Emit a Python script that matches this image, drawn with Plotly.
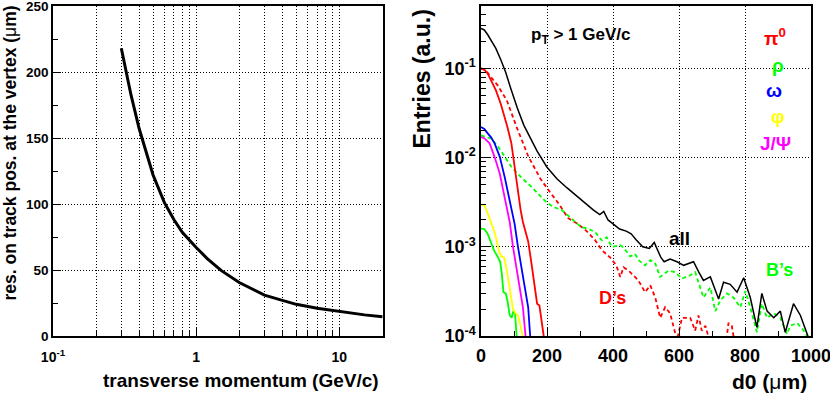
import plotly.graph_objects as go

W, H = 830, 396

# left panel: track position resolution vs pT
pt = [0.3, 0.35, 0.4, 0.45, 0.5, 0.6, 0.7, 0.8, 0.9, 1.0, 1.2, 1.5, 2.0, 3.0, 4.0, 5.0, 7.0, 10.0, 15.0, 20.0]
res = [218, 183, 157, 138, 122, 101, 88, 78.5, 72, 67, 58.5, 49.5, 40.5, 31, 27, 24, 21, 18.5, 16, 14.5]
pt_ticks = [0.1, 1, 10]
pt_labels = ["10<sup>-1</sup>", "1", "10"]
res_ticks = [0, 50, 100, 150, 200, 250]

# right panel: d0 distributions
all_x = [0, 10, 20, 30, 45, 60, 75, 90, 110, 130, 150, 170, 200, 230, 260, 290, 320, 340, 360, 372, 385,
         400, 420, 440, 455, 470, 490, 510, 525, 545, 555, 573, 594, 614, 644, 660, 674, 695, 720, 735,
         755, 776, 796, 816, 836, 851, 867, 887, 907, 922, 947, 968, 990, 1000]
all_y = [0.28, 0.27, 0.24, 0.21, 0.168, 0.125, 0.09, 0.06, 0.036, 0.023, 0.0165, 0.0118, 0.0078, 0.0058,
         0.0046, 0.0037, 0.0030, 0.0026, 0.0023, 0.0025, 0.0020, 0.0018, 0.00158, 0.0015, 0.0014, 0.0012,
         0.00100, 0.00096, 0.00112, 0.00076, 0.00068, 0.00073, 0.00068, 0.00062, 0.00068, 0.00052, 0.00042,
         0.00046, 0.00026, 0.00040, 0.00038, 0.00031, 0.00045, 0.00027, 0.000125, 0.00030, 0.00019, 0.00016,
         0.00019, 0.00011, 0.00023, 0.00017, 0.0001, 0.00008]

ds_x = [0, 15, 30, 50, 78, 108, 144, 180, 205, 234, 264, 294, 320, 345, 366, 391, 410, 422, 432, 452, 477,
        497, 513, 528, 543, 558, 573, 594, 609, 634, 649, 659, 669, 680, 692, 705, 740, 750, 760, 772]
ds_y = [0.1, 0.095, 0.08, 0.065, 0.044, 0.022, 0.0102, 0.0058, 0.0043, 0.0031, 0.0021, 0.0018, 0.0015,
        0.0012, 0.00092, 0.00076, 0.00062, 0.00046, 0.00059, 0.00052, 0.00042, 0.00031, 0.00037, 0.00027,
        0.00016, 0.00021, 0.00018, 0.00009, 0.00016, 0.00016, 0.000115, 0.00017, 0.000115, 0.00013,
        0.00009, 0.00007, 0.00007, 0.00014, 0.00013, 0.00007]

bs_x = [0, 31, 52, 72, 92, 122, 153, 193, 218, 244, 274, 304, 325, 346, 366, 381, 396, 422, 432, 452, 467,
        477, 497, 513, 528, 543, 568, 588, 609, 634, 649, 674, 695, 710, 725, 745, 765, 786, 801, 816, 836,
        851, 867, 887, 907, 927, 937, 958, 978, 995]
bs_y = [0.0178, 0.0163, 0.0132, 0.0102, 0.0079, 0.006, 0.0047, 0.0033, 0.0028, 0.0026, 0.0021, 0.00166,
        0.0016, 0.00146, 0.00118, 0.00128, 0.001, 0.00104, 0.00098, 0.00078, 0.00083, 0.00071, 0.00062,
        0.00071, 0.00065, 0.00046, 0.00054, 0.00052, 0.00044, 0.00048, 0.00052, 0.00027, 0.00035, 0.00019,
        0.00025, 0.0003, 0.00027, 0.00021, 0.00032, 0.00021, 0.00011, 0.00023, 0.00016, 0.00018, 0.00016,
        0.000105, 0.00013, 0.00014, 0.000115, 0.00009]

pi_x = [0, 10, 20, 30, 45, 60, 70, 80, 92, 98, 105, 113, 120, 127, 135, 143, 153, 163, 170, 177, 183, 190]
pi_y = [0.1, 0.097, 0.088, 0.075, 0.057, 0.04, 0.03, 0.022, 0.0145, 0.010, 0.0065, 0.0038, 0.0026, 0.0019,
        0.0015, 0.00115, 0.00065, 0.00035, 0.00023, 0.00022, 0.00015, 0.0001]

rho_x = [0, 10, 20, 30, 40, 50, 58, 63, 68, 75, 80, 87, 93, 98, 103, 108]
rho_y = [0.0016, 0.00158, 0.0014, 0.0011, 0.0009, 0.00078, 0.00068, 0.0005, 0.00031, 0.0003, 0.00025,
         0.00017, 0.00016, 0.00019, 0.00018, 0.0001]

omega_x = [0, 10, 21, 30, 41, 57, 72, 87, 97, 102, 112, 127, 143, 149]
omega_y = [0.022, 0.021, 0.0186, 0.017, 0.0145, 0.0102, 0.006, 0.0033, 0.0021, 0.0018, 0.001, 0.00046,
           0.00021, 0.0001]

phi_x = [0, 10, 20, 30, 40, 47, 55, 62, 70, 78, 87, 97, 105, 112, 118, 126]
phi_y = [0.003, 0.0029, 0.0024, 0.0019, 0.0015, 0.0012, 0.00088, 0.00078, 0.00076, 0.00055, 0.00035,
         0.0002, 0.00018, 0.00017, 0.00014, 0.0001]

jpsi_x = [0, 10, 26, 41, 57, 72, 82, 87, 97, 112, 127, 135]
jpsi_y = [0.017, 0.0165, 0.0145, 0.0102, 0.0066, 0.0036, 0.0024, 0.0019, 0.001, 0.00046, 0.00021, 0.0001]

d0_ticks = [0, 200, 400, 600, 800, 1000]
entries_ticks = [1e-4, 1e-3, 1e-2, 1e-1]
entries_labels = ["10<sup>-4</sup>", "10<sup>-3</sup>", "10<sup>-2</sup>", "10<sup>-1</sup>"]

FONT = "Liberation Sans"
RED, GREEN, BLUE, YELLOW, MAGENTA = "#ff0000", "#00ff00", "#0000ff", "#ffff00", "#ff00ff"


def px(x):
    return x / W


def py(y):
    return 1 - y / H


def bold(labels):
    return ["<b>%s</b>" % l for l in labels]


fig = go.Figure()

fig.add_trace(go.Scatter(x=pt, y=res, mode="lines", line=dict(color="black", width=3),
                         xaxis="x", yaxis="y", showlegend=False))

dash = "4px,3px"
right = [
    (ds_x, ds_y, RED, 1.8, dash),
    (bs_x, bs_y, GREEN, 1.8, dash),
    (rho_x, rho_y, GREEN, 1.8, "solid"),
    (phi_x, phi_y, YELLOW, 1.8, "solid"),
    (jpsi_x, jpsi_y, MAGENTA, 1.8, "solid"),
    (omega_x, omega_y, BLUE, 1.8, "solid"),
    (pi_x, pi_y, RED, 1.8, "solid"),
    (all_x, all_y, "black", 1.5, "solid"),
]
for xs, ys, col, w, d in right:
    fig.add_trace(go.Scatter(x=xs, y=ys, mode="lines", line=dict(color=col, width=w, dash=d),
                             xaxis="x2", yaxis="y2", showlegend=False))

grid = dict(showgrid=True, gridcolor="black", griddash="1px,2px", gridwidth=1)
ax = dict(showline=True, linecolor="black", linewidth=1.5, mirror=True, ticks="inside",
          tickcolor="black", zeroline=False, automargin=False, ticklabeloverflow="allow")

y_dom = [py(336), py(6)]
fig.update_layout(
    template="none",
    width=W, height=H,
    margin=dict(l=0, r=0, t=0, b=0),
    paper_bgcolor="white", plot_bgcolor="white",
    font=dict(family=FONT, color="black"),
    xaxis=dict(domain=[px(53), px(383)], type="log", range=[-1, 1.305], anchor="y",
               tickvals=pt_ticks, ticktext=bold(pt_labels), ticklen=8,
               tickfont=dict(size=14), ticklabelstandoff=7,
               minor=dict(tickvals=[0.2, 0.3, 0.4, 0.5, 0.6, 0.7, 0.8, 0.9, 2, 3, 4, 5, 6, 7, 8, 9],
                          ticks="inside", ticklen=5, tickcolor="black", **grid),
               **grid, **ax),
    yaxis=dict(domain=y_dom, range=[0, 250.01], anchor="x", tickvals=res_ticks,
               ticktext=bold([str(v) for v in res_ticks]), ticklen=8, tickfont=dict(size=13.5),
               minor=dict(tickvals=[25, 75, 125, 175, 225], ticks="inside", ticklen=5, tickcolor="black"),
               **grid, **ax),
    xaxis2=dict(domain=[px(481), px(811)], range=[0, 1000], anchor="y2",
                tickvals=d0_ticks, ticktext=bold([str(v) for v in d0_ticks]), ticklen=8,
                tickfont=dict(size=18), ticklabelstandoff=3,
                minor=dict(tickvals=[100, 300, 500, 700, 900], ticks="inside", ticklen=5, tickcolor="black"),
                **grid, **ax),
    yaxis2=dict(domain=y_dom, type="log", range=[-4, -0.3], anchor="x2",
                tickvals=entries_ticks, ticktext=bold(entries_labels),
                ticklen=10, tickfont=dict(size=18),
                minor=dict(tickvals=[m * 10 ** e for e in range(-4, 0) for m in range(2, 10) if m * 10 ** e < 0.5],
                           ticks="inside", ticklen=5, tickcolor="black"),
                **grid, **ax),
)

notes = [
    # axis titles
    dict(text="<b>transverse momentum (GeV/c)</b>", x=px(381), y=py(380), xanchor="right", size=19, color="black"),
    dict(text="<b>d0 (</b>μ<b>m)</b>", x=px(809), y=py(381), xanchor="right", size=21, color="black"),
    # in-frame labels
    dict(text="<b>p<sub>T</sub> > 1 GeV/c</b>", x=px(580), y=py(36), xanchor="center", size=17, color="black"),
    dict(text="<b>π<sup>0</sup></b>", x=px(775), y=py(37), xanchor="center", size=19, color=RED),
    dict(text="<b>ρ</b>", x=px(778), y=py(65), xanchor="center", size=19, color=GREEN),
    dict(text="<b>ω</b>", x=px(774), y=py(91), xanchor="center", size=19, color=BLUE),
    dict(text="<b>φ</b>", x=px(778), y=py(117), xanchor="center", size=19, color=YELLOW),
    dict(text="<b>J/Ψ</b>", x=px(775), y=py(143), xanchor="center", size=19, color=MAGENTA),
    dict(text="<b>all</b>", x=px(679), y=py(239), xanchor="center", size=19, color="black"),
    dict(text="<b>B’s</b>", x=px(779), y=py(270), xanchor="center", size=18, color=GREEN),
    dict(text="<b>D’s</b>", x=px(612), y=py(298), xanchor="center", size=18, color=RED),
]
for n in notes:
    fig.add_annotation(text=n["text"], x=n["x"], y=n["y"], xref="paper", yref="paper",
                       xanchor=n["xanchor"], yanchor="middle", showarrow=False,
                       font=dict(family=FONT, size=n["size"], color=n["color"]))

# rotated y titles
fig.add_annotation(text="<b>res. on track pos. at the vertex (</b>μ<b>m)</b>", x=px(10), y=py(4),
                   xref="paper", yref="paper", xanchor="center", yanchor="top", textangle=-90,
                   showarrow=False, font=dict(family=FONT, size=17.5, color="black"))
fig.add_annotation(text="<b>Entries (a.u.)</b>", x=px(421), y=py(8),
                   xref="paper", yref="paper", xanchor="center", yanchor="top", textangle=-90,
                   showarrow=False, font=dict(family=FONT, size=23, color="black"))

# page body has a default 8px margin; drop it so the figure fills the window
fig.write_html("out.html", config={"displayModeBar": False},
               post_script="document.body.style.margin='0';")
